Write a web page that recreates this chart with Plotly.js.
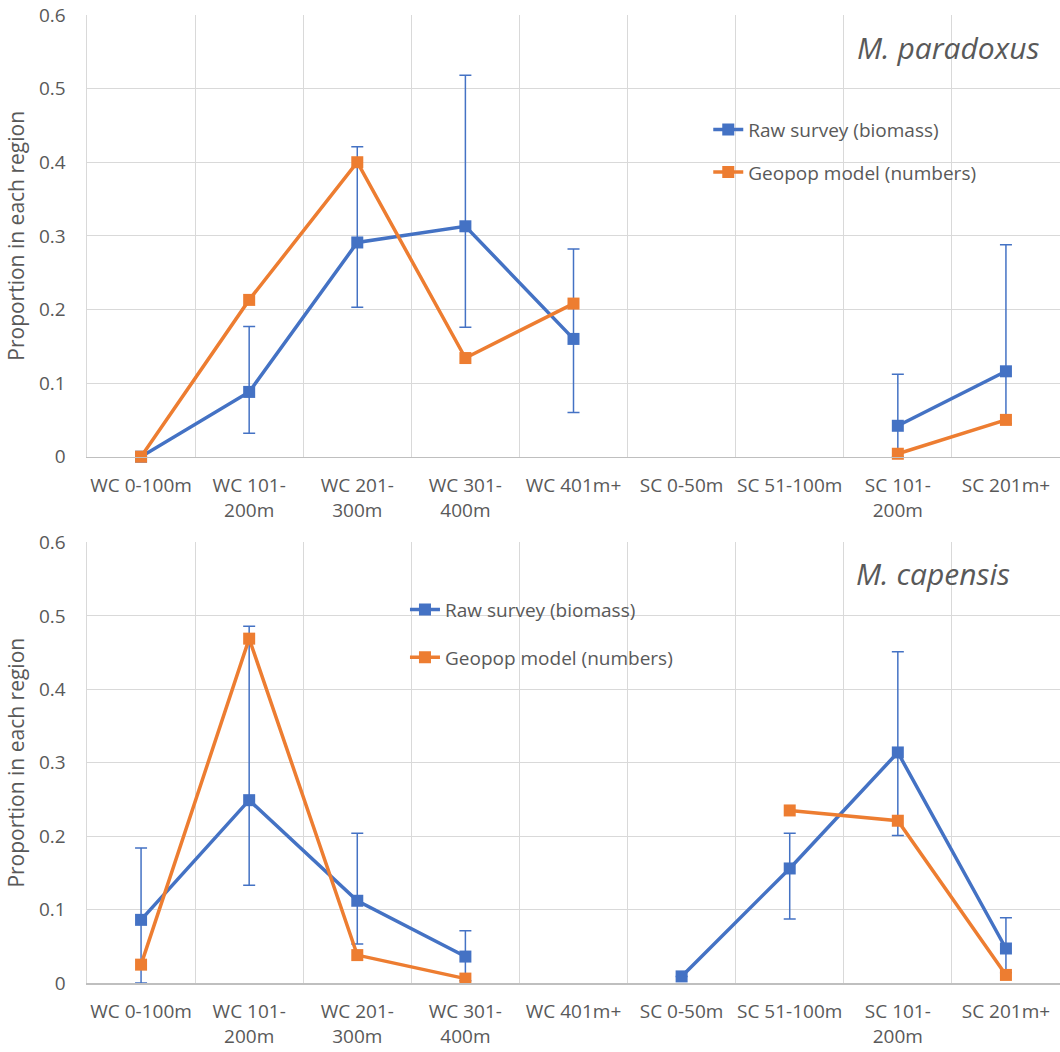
<!DOCTYPE html>
<html>
<head>
<meta charset="utf-8">
<script src="https://cdn.plot.ly/plotly-3.0.1.min.js"></script>
<style>html,body{margin:0;padding:0;background:#fff;}#chart{width:1060px;height:1052px;}</style>
</head>
<body>
<div id="chart"></div>
<script>
// ---- data ----
const categories = ["WC 0-100m", "WC 101-200m", "WC 201-300m", "WC 301-400m", "WC 401m+",
                    "SC 0-50m", "SC 51-100m", "SC 101-200m", "SC 201m+"];
const tickLabels = ["WC 0-100m", "WC 101-<br>200m", "WC 201-<br>300m", "WC 301-<br>400m", "WC 401m+",
                    "SC 0-50m", "SC 51-100m", "SC 101-<br>200m", "SC 201m+"];
const seriesNames = ["Raw survey (biomass)", "Geopop model (numbers)"];
const panelTitles = ["M. paradoxus", "M. capensis"];
const yTicks = [0, 0.1, 0.2, 0.3, 0.4, 0.5, 0.6];

const paradoxusSurvey     = [0,    0.088, 0.291, 0.313, 0.160, null, null, 0.042, 0.116];
const paradoxusSurveyLow  = [null, 0.032, 0.203, 0.176, 0.060, null, null, 0.000, 0.045];
const paradoxusSurveyHigh = [null, 0.177, 0.421, 0.518, 0.282, null, null, 0.112, 0.288];
const paradoxusModel      = [0,    0.213, 0.400, 0.134, 0.208, null, null, 0.004, 0.050];

const capensisSurvey     = [0.086, 0.249, 0.112, 0.036, null, 0.009, 0.156, 0.314, 0.047];
const capensisSurveyLow  = [0.000, 0.133, 0.053, 0.003, null, null,  0.087, 0.201, 0.014];
const capensisSurveyHigh = [0.184, 0.486, 0.204, 0.071, null, null,  0.204, 0.451, 0.089];
const capensisModel      = [0.025, 0.469, 0.038, 0.006, null, null,  0.235, 0.221, 0.011];

// ---- styling ----
const BLUE = "#4472C4", ORANGE = "#ED7D31", TXT = "#595959", GRID = "#D9D9D9";
const FONT = "'Open Sans', 'Noto Sans', sans-serif";

function errPlus(v, hi) { return v.map((d, i) => (d == null || hi[i] == null) ? null : hi[i] - d); }
function errMinus(v, lo) { return v.map((d, i) => (d == null || lo[i] == null) ? null : d - lo[i]); }

function surveyTrace(vals, lo, hi, xa, ya, leg, grp) {
  return {
    type: "scatter", mode: "lines+markers", name: seriesNames[0],
    x: tickLabels, y: vals, xaxis: xa, yaxis: ya, legend: leg, legendgroup: grp, cliponaxis: false,
    line: {color: BLUE, width: 3.5},
    marker: {symbol: "square", size: 12, color: BLUE},
    error_y: {type: "data", symmetric: false, array: errPlus(vals, hi), arrayminus: errMinus(vals, lo),
              color: BLUE, thickness: 1.5, width: 6, visible: true}
  };
}
function modelTrace(vals, xa, ya, leg, grp) {
  return {
    type: "scatter", mode: "lines+markers", name: seriesNames[1],
    x: tickLabels, y: vals, xaxis: xa, yaxis: ya, legend: leg, legendgroup: grp, cliponaxis: false,
    line: {color: ORANGE, width: 3.5},
    marker: {symbol: "square", size: 12, color: ORANGE}
  };
}

const data = [
  surveyTrace(paradoxusSurvey, paradoxusSurveyLow, paradoxusSurveyHigh, "x", "y", "legend", "a1"),
  modelTrace(paradoxusModel, "x", "y", "legend", "a2"),
  surveyTrace(capensisSurvey, capensisSurveyLow, capensisSurveyHigh, "x2", "y2", "legend2", "b1"),
  modelTrace(capensisModel, "x2", "y2", "legend2", "b2")
];

function xAxis(anchor) {
  return {
    anchor: anchor, domain: [0, 1], type: "category",
    categoryorder: "array", categoryarray: tickLabels,
    range: [-0.5, 8.5], tickson: "boundaries", ticks: "", tickangle: 0,
    showgrid: true, gridcolor: GRID, gridwidth: 1,
    showline: true, linecolor: "#BFBFBF", linewidth: 1.5,
    tickfont: {family: FONT, size: 19, color: TXT},
    ticklabelstandoff: 11, fixedrange: true, zeroline: false
  };
}
function yAxis(anchor, dom) {
  return {
    anchor: anchor, domain: dom, range: [0, 0.6], tickvals: yTicks,
    ticktext: yTicks.map(String), ticks: "",
    showgrid: true, gridcolor: GRID, gridwidth: 1,
    showline: true, linecolor: GRID, linewidth: 1.5, zeroline: false,
    tickfont: {family: FONT, size: 19, color: TXT}, ticklabelstandoff: 16,
    title: {text: "Proportion in each region", font: {family: FONT, size: 21, color: TXT}, standoff: 8}
  };
}

const legendBase = {
  font: {family: FONT, size: 19, color: TXT}, bgcolor: "rgba(0,0,0,0)",
  xref: "paper", yref: "paper", xanchor: "left", yanchor: "top", traceorder: "grouped"
};

const layout = {
  width: 1060, height: 1052,
  margin: {l: 87, r: 0, t: 15, b: 69},
  paper_bgcolor: "#ffffff", plot_bgcolor: "#ffffff",
  font: {family: FONT, color: TXT},
  xaxis: xAxis("y"), yaxis: yAxis("x", [0.5437, 1]),
  xaxis2: xAxis("y2"), yaxis2: yAxis("x2", [0, 0.4551]),
  legend: Object.assign({}, legendBase, {x: 0.6385, y: 0.9013, tracegroupgap: 15}),
  legend2: Object.assign({}, legendBase, {x: 0.3268, y: 0.4053, tracegroupgap: 20}),
  annotations: [
    {text: "<i>" + panelTitles[0] + "</i>", xref: "x domain", yref: "y domain", x: 0.885, y: 0.927,
     xanchor: "center", yanchor: "middle", showarrow: false, font: {family: FONT, size: 30, color: TXT}},
    {text: "<i>" + panelTitles[1] + "</i>", xref: "x2 domain", yref: "y2 domain", x: 0.8695, y: 0.9285,
     xanchor: "center", yanchor: "middle", showarrow: false, font: {family: FONT, size: 30, color: TXT}}
  ],
  showlegend: true
};

Plotly.newPlot("chart", data, layout, {staticPlot: true, displayModeBar: false});
</script>
</body>
</html>
